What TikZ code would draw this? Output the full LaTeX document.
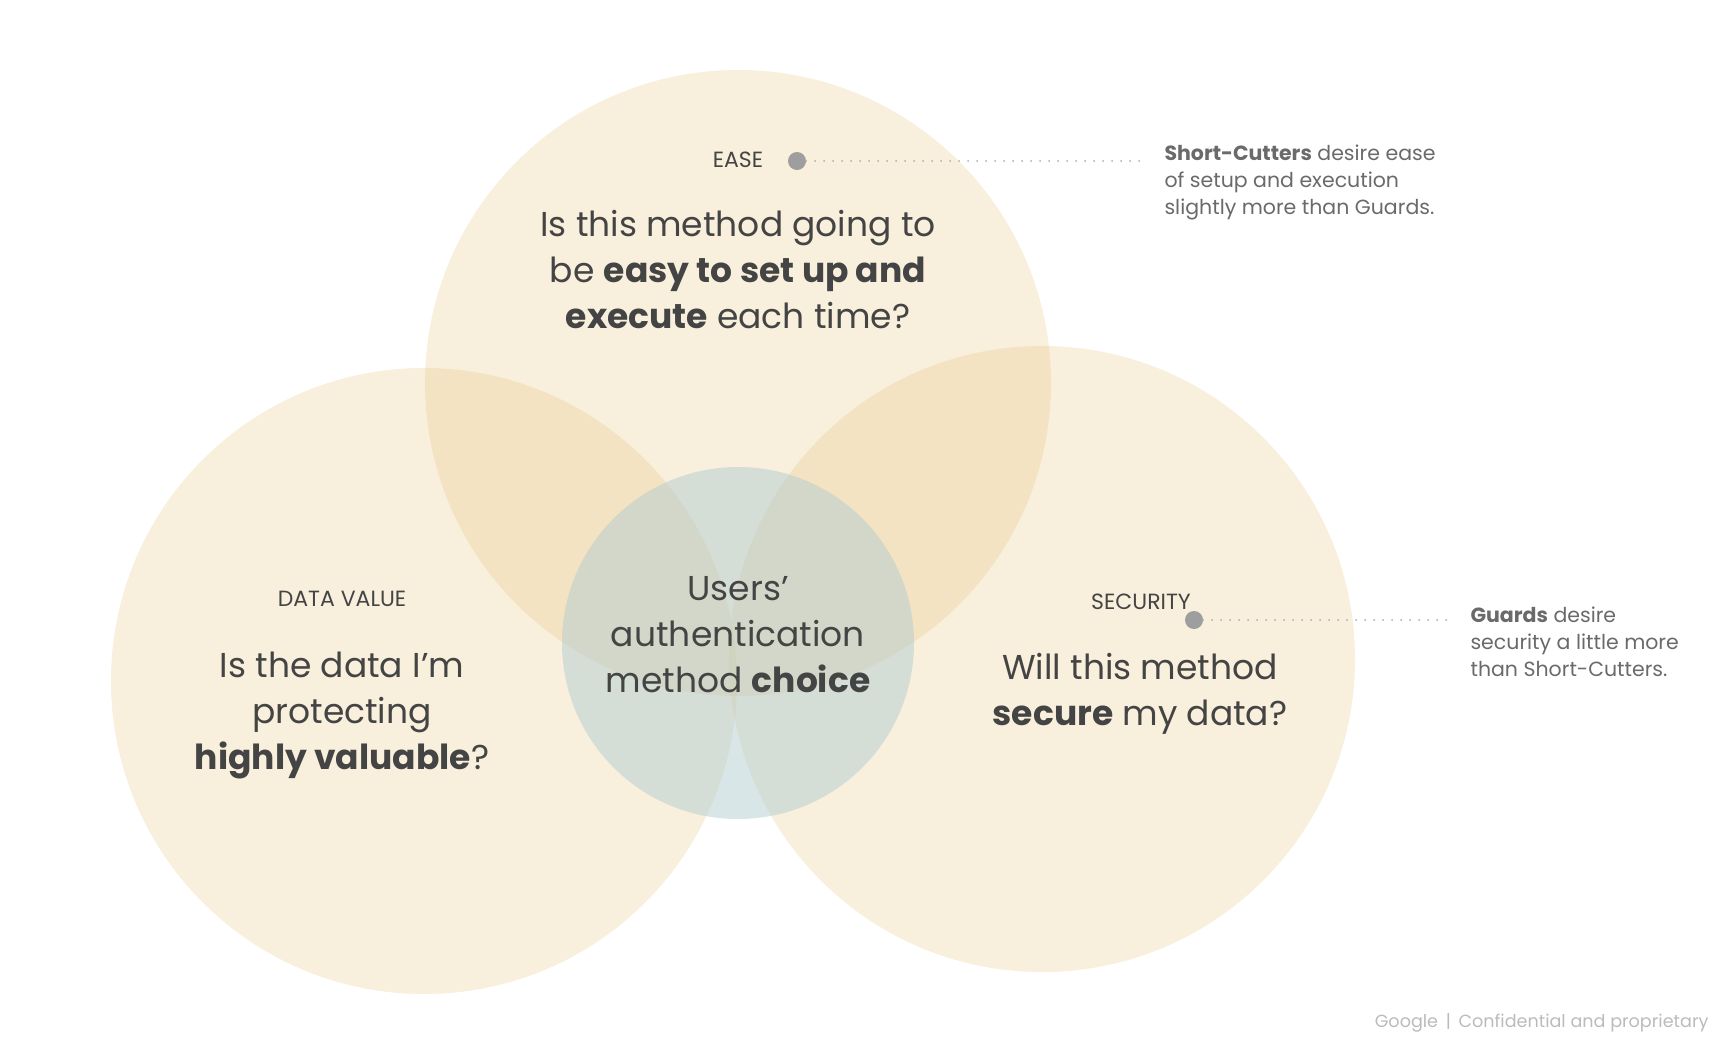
\documentclass[tikz,border=0pt]{standalone}
\usepackage{fontspec}
\setmainfont{Poppins}
\usetikzlibrary{positioning}

\definecolor{creamfill}{HTML}{E3BF73}
\definecolor{centerfill}{HTML}{B1CDD1}
\definecolor{textdark}{HTML}{444444}
\definecolor{notegrey}{HTML}{6A6A6A}
\definecolor{dotgrey}{HTML}{9E9E9E}
\definecolor{linegrey}{HTML}{ADADAD}
\definecolor{footgrey}{HTML}{BBBBBB}

\begin{document}
\begin{tikzpicture}[x=1pt, y=-1pt,
    bigcircle/.style={circle, fill=creamfill, fill opacity=0.25, inner sep=0pt, minimum size=626pt},
    question/.style={align=center, text=textdark, font=\fontsize{34.5}{46}\selectfont},
    tag/.style={text=textdark, font=\fontsize{22}{24}\selectfont},
    note/.style={align=left, anchor=north west, text=notegrey, font=\fontsize{20.5}{27}\selectfont},
    marker/.style={circle, fill=dotgrey, inner sep=0pt, minimum size=18pt},
    leader/.style={linegrey, line width=2pt, dash pattern=on 0pt off 9pt, line cap=round}]

      \useasboundingbox (0,0) rectangle (1714,1050);

      % the three big circles
      \node[bigcircle] (ease) at (738, 383) {};
      \node[bigcircle] (value) at (424, 681) {};
      \node[bigcircle] (security) at (1042, 659) {};

      % middle circle
      \node[
        circle,
        fill=centerfill,
        fill opacity=0.5,
        inner sep=0pt,
        minimum size=352pt
        ] (choice) at (738, 643) {};

      \node[question] (choicetext) at (738, 635)
        {Users'\\authentication\\method \textbf{choice}};

      % ease
      \node[tag] (easetag) at (738, 160) {EASE};
      \node[question] (easeq) at (738, 270)
        {Is this method going to\\be \textbf{easy to set up and}\\\textbf{execute} each time?};
      \node[marker] (easedot) at (797, 161) {};
      \coordinate (easeend) at (1142, 161);
      \draw[leader] (easedot) -- (easeend);
      \node[note] (easenote) at (1161, 141)
        {\textbf{Short-Cutters} desire ease\\of setup and execution\\slightly more than Guards.};

      % data value
      \node[tag] (valuetag) at (342, 599) {DATA VALUE};
      \node[question] (valueq) at (342, 715)
        {Is the data I'm\\protecting\\\textbf{highly valuable}?};

      % security
      \node[tag] (securitytag) at (1141, 602) {SECURITY};
      \node[question] (securityq) at (1140, 694)
        {Will this method\\\textbf{secure} my data?};
      \node[marker] (securitydot) at (1194, 620) {};
      \coordinate (securityend) at (1450, 620);
      \draw[leader] (securitydot) -- (securityend);
      \node[note] (securitynote) at (1467, 603)
        {\textbf{Guards} desire\\security a little more\\than Short-Cutters.};

      % footer
      \node[anchor=east, text=footgrey, font=\fontsize{17.6}{20}\selectfont] (footer) at (1712, 1023)
        {Google \,|\, Confidential and proprietary};
    \end{tikzpicture}
\end{document}
